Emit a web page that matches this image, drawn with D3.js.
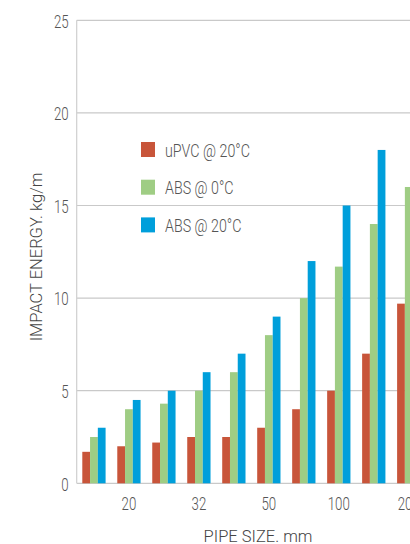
<!DOCTYPE html>
<html>
<head>
<meta charset="utf-8">
<script src="https://cdn.jsdelivr.net/npm/d3@7"></script>
<style>
  body { margin: 0; background: #fff; overflow: hidden; }
</style>
</head>
<body>
<div id="chart"></div>
<script>
//* data
var sizes = ["15", "20", "25", "32", "40", "50", "80", "100", "150", "200"]
var shownSizes = ["20", "32", "50", "100", "200"]
var series = ["uPVC @ 20°C", "ABS @ 0°C", "ABS @ 20°C"]
var upvc20 = [1.7, 2.0, 2.2, 2.5, 2.5, 3.0, 4.0, 5.0, 7.0, 9.7]
var abs0 = [2.5, 4.0, 4.3, 5.0, 6.0, 8.0, 10.0, 11.7, 14.0, 16.0]
var abs20 = [3.0, 4.5, 5.0, 6.0, 7.0, 9.0, 12.0, 15.0, 18.0, 20.5]
var yTicks = [0, 5, 10, 15, 20, 25]
var colors = ["#c8553a", "#9fcd84", "#009fdb"]

var W = 410, H = 544
// plot box (right edge runs past the window, chart is cropped)
var pLeft = 76.7, pTop = 20.3, pBottom = 483.3, pRight = 426

var svg = d3.select("#chart").append("svg")
    .attr("width", W)
    .attr("height", H)

//* scales
var x = d3.scaleBand()
    .domain(sizes)
    .range([pLeft, pRight])
    .paddingInner(0.334)
    .paddingOuter(0.16)

var xs = d3.scaleBand()
    .domain(series)
    .range([0, x.bandwidth()])

var y = d3.scaleLinear()
    .domain([0, 25])
    .range([pBottom, pTop])

var color = d3.scaleOrdinal().domain(series).range(colors)

// narrow light lettering, like the condensed face of the original
var narrow = 0.7
var condFont = "Roboto, sans-serif"

//* grid lines
svg.append("g")
    .selectAll("line")
    .data(yTicks)
    .enter()
    .append("line")
    .attr("x1", pLeft)
    .attr("x2", W)
    .attr("y1", function(d){ return y(d) })
    .attr("y2", function(d){ return y(d) })
    .attr("stroke", "#c9c9c9")
    .attr("stroke-width", 1.2)

// vertical axis line
svg.append("line")
    .attr("x1", pLeft).attr("x2", pLeft)
    .attr("y1", pTop).attr("y2", pBottom)
    .attr("stroke", "#cfcfcf")
    .attr("stroke-width", 1.2)

//* bars
var table = sizes.map(function(s, i){
    return { size: s, values: [upvc20[i], abs0[i], abs20[i]] }
})

var groups = svg.append("g")
    .selectAll("g")
    .data(table)
    .enter()
    .append("g")
    .attr("transform", function(d){ return "translate(" + x(d.size) + ",0)" })

groups.selectAll("rect")
    .data(function(d){ return d.values.map(function(v, j){ return { key: series[j], value: v } }) })
    .enter()
    .append("rect")
    .attr("x", function(d){ return xs(d.key) })
    .attr("y", function(d){ return y(d.value) })
    .attr("width", xs.bandwidth())
    .attr("height", function(d){ return y(0) - y(d.value) })
    .attr("fill", function(d){ return color(d.key) })

//* y axis labels
var yAxis = svg.append("g")
    .attr("transform", "translate(" + pLeft + ",0)")
    .call(d3.axisLeft(y).tickValues(yTicks).tickSize(0).tickPadding(8))
yAxis.select(".domain").remove()
yAxis.selectAll("text")
    .attr("x", -8 / narrow)
    .attr("dy", "0.36em")
    .attr("transform", "scale(" + narrow + ",1)")
    .style("font-family", condFont)
    .style("font-weight", 300)
    .style("font-size", "19px")
    .attr("fill", "#555")

//* x axis labels
var xAxis = svg.append("g")
    .attr("transform", "translate(0," + pBottom + ")")
    .call(d3.axisBottom(x).tickValues(shownSizes).tickSize(0).tickPadding(0))
xAxis.select(".domain").remove()
xAxis.selectAll(".tick text")
    .attr("y", 0)
    .attr("dy", 0)
    .attr("transform", "translate(0,26.5) scale(" + narrow + ",1)")
    .style("font-family", condFont)
    .style("font-weight", 300)
    .style("font-size", "19px")
    .attr("fill", "#555")

//* axis titles
svg.append("text")
    .attr("x", 258)
    .attr("y", 542)
    .attr("text-anchor", "middle")
    .style("font-family", "Roboto, sans-serif")
    .style("font-weight", 300)
    .style("font-size", "16.5px")
    .attr("fill", "#444")
    .text("PIPE SIZE. mm")

svg.append("text")
    .attr("transform", "translate(42,257) rotate(-90)")
    .attr("text-anchor", "middle")
    .style("font-family", "Roboto, sans-serif")
    .style("font-weight", 300)
    .style("font-size", "16.5px")
    .attr("fill", "#444")
    .text("IMPACT ENERGY. kg/m")

//* legend
var legend = svg.append("g")
    .selectAll("g")
    .data(series)
    .enter()
    .append("g")
    .attr("transform", function(d, i){ return "translate(141," + (142 + i * 37.7) + ")" })

legend.append("rect")
    .attr("width", 14)
    .attr("height", 15)
    .attr("fill", function(d){ return color(d) })

legend.append("text")
    .attr("transform", "translate(24,14.5) scale(0.75,1)")
    .style("font-family", condFont)
    .style("font-weight", 300)
    .style("font-size", "19px")
    .attr("fill", "#555")
    .text(function(d){ return d })
</script>
</body>
</html>
